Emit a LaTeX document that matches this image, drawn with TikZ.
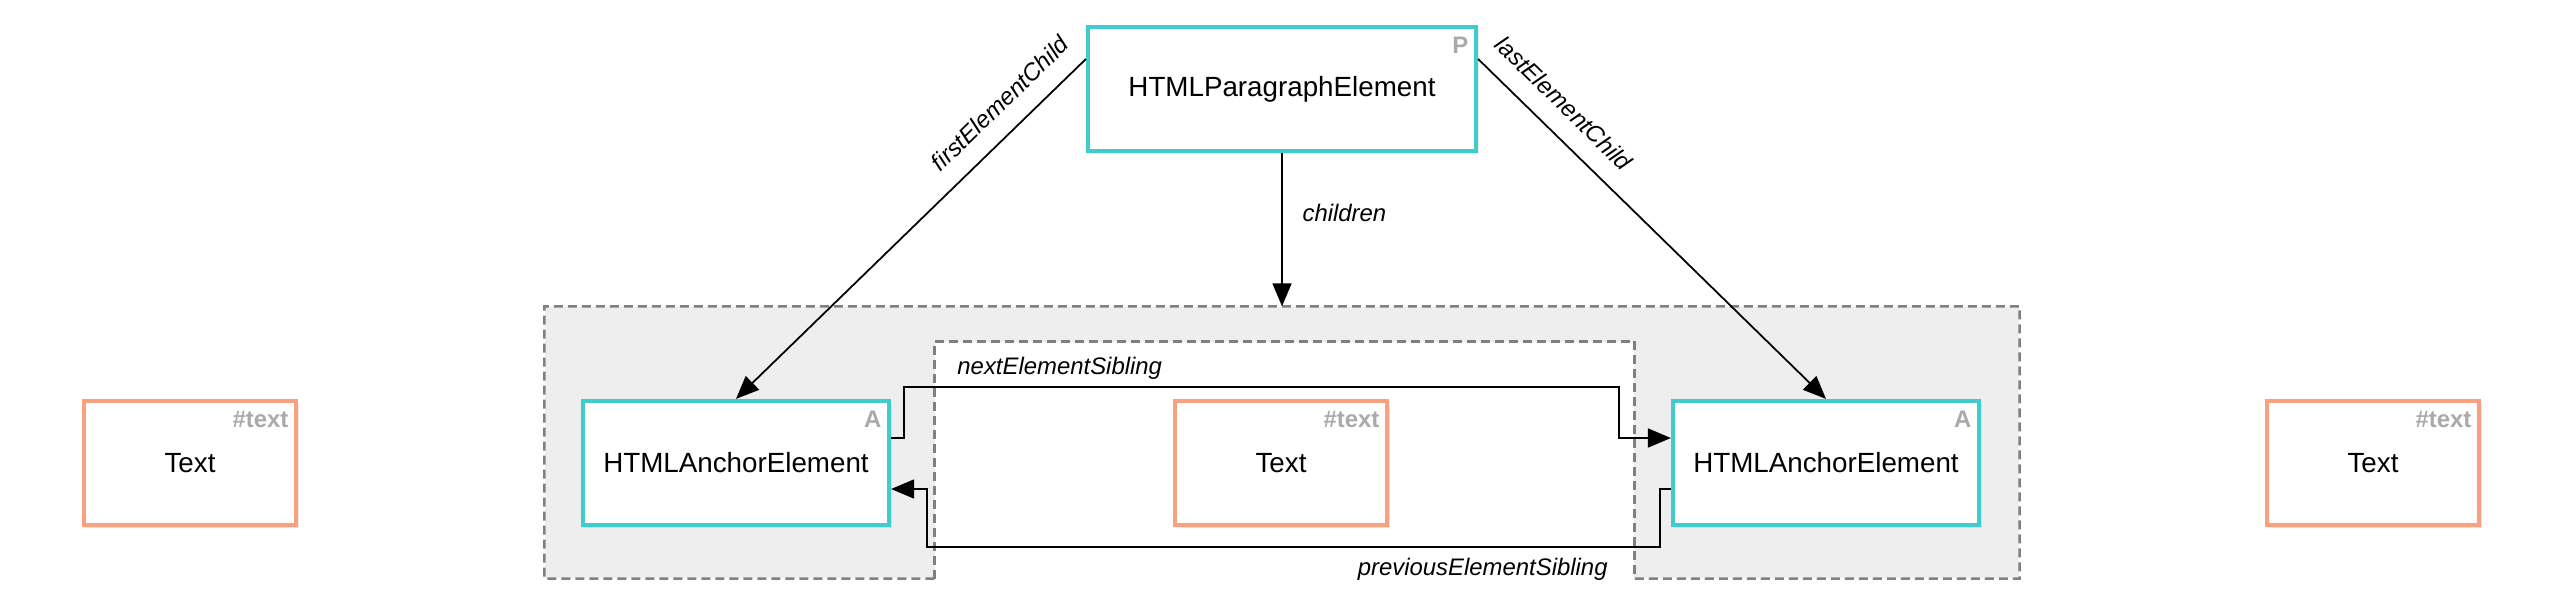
\documentclass[tikz,border=0pt]{standalone}
\usepackage{fontspec}
\setmainfont{Liberation Sans}
\usetikzlibrary{arrows.meta,shadows}
\definecolor{elemcol}{HTML}{41CBCD}
\definecolor{textcol}{HTML}{F9A07F}
\definecolor{tagcol}{HTML}{AAAAAA}
\definecolor{groupcol}{HTML}{EEEEEE}
\definecolor{grpdash}{HTML}{808080}
\tikzset{
  box/.style={draw, line width=1.2pt, fill=white, inner sep=0pt, minimum height=1.24cm,
    font=\fontsize{7.9}{9}\selectfont,
    drop shadow={shadow xshift=0.025cm, shadow yshift=-0.03cm, opacity=0.18}},
  elem/.style={box, draw=elemcol, minimum width=3.06cm},
  txt/.style={box, draw=textcol, minimum width=2.12cm},
  tag/.style={anchor=north east, inner sep=0pt, text=tagcol, font=\fontsize{6.8}{7}\selectfont\bfseries},
  lbl/.style={font=\fontsize{6.8}{8}\selectfont\itshape},
  arr/.style={draw, line width=0.5pt, -{Triangle[length=0.23cm, width=0.19cm]}},
  grpline/.style={draw=grpdash, line width=0.7pt, dash pattern=on 0.09cm off 0.05cm},
}
\begin{document}
\begin{tikzpicture}
  \useasboundingbox (0,0) rectangle (25.6,-6);
  \node[fill=groupcol, minimum width=14.74cm, minimum height=2.71cm] (kids) at (12.82,-4.425) {};
  \node[fill=white, minimum width=6.99cm, minimum height=2.36cm] (mid) at (12.845,-4.60) {};
  \draw[grpline] (mid.south west) -- (kids.south west) -- (kids.north west)
    -- (kids.north east) -- (kids.south east) -- (mid.south east);
  \draw[grpline] (mid.south west) -- (mid.north west) -- (mid.north east) -- (mid.south east);

  \node[elem, minimum width=3.88cm] (P) at (12.82,-0.89) {HTMLParagraphElement};
  \node[elem] (A1) at (7.36,-4.63) {HTMLAnchorElement};
  \node[elem] (A2) at (18.26,-4.63) {HTMLAnchorElement};
  \node[txt] (T1) at (1.90,-4.63) {Text};
  \node[txt] (T2) at (12.81,-4.63) {Text};
  \node[txt] (T3) at (23.73,-4.63) {Text};

  \node[tag] (Ptag) at ([xshift=-0.09cm,yshift=-0.11cm]P.north east) {P};
  \node[tag] (A1tag) at ([xshift=-0.09cm,yshift=-0.11cm]A1.north east) {A};
  \node[tag] (A2tag) at ([xshift=-0.09cm,yshift=-0.11cm]A2.north east) {A};
  \node[tag] (T1tag) at ([xshift=-0.09cm,yshift=-0.12cm]T1.north east) {\#text};
  \node[tag] (T2tag) at ([xshift=-0.09cm,yshift=-0.12cm]T2.north east) {\#text};
  \node[tag] (T3tag) at ([xshift=-0.09cm,yshift=-0.12cm]T3.north east) {\#text};

  \draw[arr] ([yshift=0.3cm]P.west) -- node[lbl, sloped, above=0.07cm, pos=0.19] (firstlbl) {firstElementChild} (A1.north);
  \draw[arr] ([yshift=0.3cm]P.east) -- node[lbl, sloped, above=0.07cm, pos=0.19] (lastlbl) {lastElementChild} (A2.north);
  \draw[arr] (P.south) -- node[lbl, right=0.08cm, pos=0.39] (kidslbl) {children} (kids.north);

  \draw[arr] ([yshift=0.25cm]A1.east) -- ++(0.13,0) |- (16.19,-3.87) |- ([yshift=0.25cm]A2.west);
  \draw[arr] ([yshift=-0.26cm]A2.west) -- ++(-0.11,0) |- (9.27,-5.47) |- ([yshift=-0.26cm]A1.east);
  \node[lbl, anchor=west] (nextlbl) at (9.45,-3.685) {nextElementSibling};
  \node[lbl, anchor=east] (prevlbl) at (16.20,-5.69) {previousElementSibling};
\end{tikzpicture}
\end{document}
